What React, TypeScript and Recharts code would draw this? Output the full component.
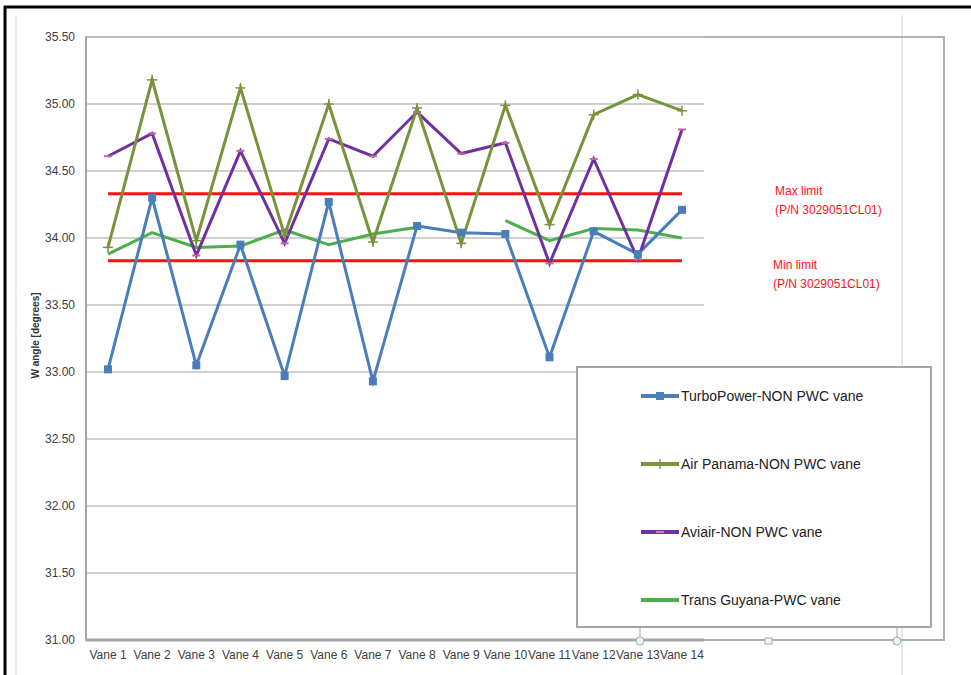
import React from 'react';
import { LineChart, Line, XAxis, YAxis, CartesianGrid, ReferenceLine } from 'recharts';

const categories = ['Vane 1', 'Vane 2', 'Vane 3', 'Vane 4', 'Vane 5', 'Vane 6', 'Vane 7', 'Vane 8', 'Vane 9', 'Vane 10', 'Vane 11', 'Vane 12', 'Vane 13', 'Vane 14'];
const turboPower = [33.02, 34.30, 33.05, 33.95, 32.97, 34.27, 32.93, 34.09, 34.04, 34.03, 33.11, 34.05, 33.88, 34.21];
const airPanama = [33.93, 35.18, 33.98, 35.12, 34.02, 35.00, 33.97, 34.97, 33.96, 34.99, 34.10, 34.92, 35.07, 34.95];
const aviair = [34.61, 34.78, 33.87, 34.65, 33.96, 34.74, 34.61, 34.94, 34.63, 34.71, 33.81, 34.59, 33.84, 34.81];
const transGuyana = [33.88, 34.04, 33.93, 33.94, 34.06, 33.95, 34.03, 34.08, null, 34.13, 33.98, 34.07, 34.06, 34.00];
const yTicks = [31, 31.5, 32, 32.5, 33, 33.5, 34, 34.5, 35, 35.5];
const MAX_LIMIT = 34.33;
const MIN_LIMIT = 33.83;
const limitLabel = '(P/N 3029051CL01)';

const FONT = '"Liberation Sans", Arial, sans-serif';
const BLUE = '#4a7ebb';
const OLIVE = '#77933c';
const PURPLE = '#7030a0';
const GREEN = '#4cae4c';
const RED = '#ff1010';

const data = categories.map((name, i) => ({
  name,
  turboPower: turboPower[i],
  airPanama: airPanama[i],
  aviair: aviair[i],
  transGuyana: transGuyana[i],
}));

const SquareDot = (props: any) => {
  const { cx, cy, index } = props;
  if (cx == null || cy == null) return <g key={`sq-${index}`} />;
  return <rect key={`sq-${index}`} x={cx - 4} y={cy - 4} width={8} height={8} fill={BLUE} />;
};

const PlusDot = (props: any) => {
  const { cx, cy, index } = props;
  if (cx == null || cy == null) return <g key={`pl-${index}`} />;
  return (
    <g key={`pl-${index}`} stroke={OLIVE} strokeWidth={1.5}>
      <line x1={cx - 5} y1={cy} x2={cx + 5} y2={cy} />
      <line x1={cx} y1={cy - 5} x2={cx} y2={cy + 5} />
    </g>
  );
};

const DashDot = (props: any) => {
  const { cx, cy, index } = props;
  if (cx == null || cy == null) return <g key={`da-${index}`} />;
  return <line key={`da-${index}`} x1={cx - 4} y1={cy} x2={cx + 4} y2={cy} stroke="#c86496" strokeWidth={2} />;
};

const legendItems = [
  { label: 'TurboPower-NON PWC vane', color: BLUE, marker: 'square' },
  { label: 'Air Panama-NON PWC vane', color: OLIVE, marker: 'plus' },
  { label: 'Aviair-NON PWC vane', color: PURPLE, marker: 'dash' },
  { label: 'Trans Guyana-PWC vane', color: GREEN, marker: 'none' },
];

const LegendSymbol = ({ color, marker }: { color: string; marker: string }) => (
  <svg width={38} height={12} style={{ display: 'block' }}>
    <line x1={0} y1={6} x2={38} y2={6} stroke={color} strokeWidth={4} />
    {marker === 'square' && <rect x={15} y={2} width={8} height={8} fill={color} />}
    {marker === 'plus' && <line x1={19} y1={1} x2={19} y2={11} stroke={color} strokeWidth={1.2} />}
    {marker === 'dash' && <line x1={15} y1={6} x2={23} y2={6} stroke="#d080a8" strokeWidth={2} />}
  </svg>
);

const YLabel = (props: any) => {
  const { viewBox } = props;
  const cx = 35;
  const cy = viewBox.y + viewBox.height / 2 - 3;
  return (
    <text x={cx} y={cy} transform={`rotate(-90 ${cx} ${cy})`} textAnchor="middle" dominantBaseline="central"
      fontSize={10} fontWeight="bold" fill="#333" fontFamily={FONT}>
      W angle [degrees]
    </text>
  );
};

export default function App() {
  return (
    <div style={{ position: 'absolute', left: 0, top: 0, width: 971, height: 675, background: '#fff', fontFamily: FONT, overflow: 'hidden' }}>
      <svg width={971} height={675} style={{ position: 'absolute', left: 0, top: 0 }}>
        <line x1={4} y1={7} x2={971} y2={7} stroke="#000" strokeWidth={3} />
        <line x1={5} y1={6} x2={5} y2={675} stroke="#000" strokeWidth={3} />
        <line x1={16} y1={15} x2={16} y2={675} stroke="#d4d4d4" strokeWidth={1} />
        <line x1={902} y1={15} x2={902} y2={675} stroke="#d0d0d0" strokeWidth={1} />
        <rect x={86} y={37} width={858} height={603} fill="none" stroke="#b0b0b0" strokeWidth={2} />
      </svg>
      <div style={{ position: 'absolute', left: 0, top: 0 }}>
        <LineChart width={971} height={675} data={data} margin={{ top: 37, right: 267, left: 0, bottom: 0 }}>
          <CartesianGrid vertical={false} stroke="#c0c0c0" strokeWidth={1.5} />
          <XAxis dataKey="name" interval={0} padding={{ left: 22, right: 22 }} height={35}
            axisLine={{ stroke: '#a6a6a6', strokeWidth: 3 }} tickLine={false} tickMargin={4}
            tick={{ fontSize: 12, fill: '#404040', fontFamily: FONT }} />
          <YAxis domain={[31, 35.5]} ticks={yTicks} width={86} allowDataOverflow
            axisLine={{ stroke: '#a6a6a6', strokeWidth: 2 }} tickLine={false} tickMargin={5}
            tickFormatter={(v: number) => v.toFixed(2)}
            tick={{ fontSize: 12, fill: '#404040', fontFamily: FONT }}
            label={<YLabel />} />
          <ReferenceLine segment={[{ x: categories[0], y: MAX_LIMIT }, { x: categories[categories.length - 1], y: MAX_LIMIT }]}
            stroke={RED} strokeWidth={3} ifOverflow="visible" />
          <ReferenceLine segment={[{ x: categories[0], y: MIN_LIMIT }, { x: categories[categories.length - 1], y: MIN_LIMIT }]}
            stroke={RED} strokeWidth={3} ifOverflow="visible" />
          <Line dataKey="transGuyana" stroke={GREEN} strokeWidth={3} dot={false} isAnimationActive={false} connectNulls={false} />
          <Line dataKey="turboPower" stroke={BLUE} strokeWidth={3} dot={SquareDot} activeDot={false} isAnimationActive={false} />
          <Line dataKey="aviair" stroke={PURPLE} strokeWidth={3} dot={DashDot} activeDot={false} isAnimationActive={false} />
          <Line dataKey="airPanama" stroke={OLIVE} strokeWidth={3} dot={PlusDot} activeDot={false} isAnimationActive={false} />
        </LineChart>
      </div>
      <div style={{ position: 'absolute', left: 775, top: 182, color: RED, fontSize: 12, lineHeight: '19px' }}>
        <div>Max limit</div>
        <div>{limitLabel}</div>
      </div>
      <div style={{ position: 'absolute', left: 773, top: 256, color: RED, fontSize: 12, lineHeight: '19px' }}>
        <div>Min limit</div>
        <div>{limitLabel}</div>
      </div>
      <div style={{ position: 'absolute', left: 576, top: 366, width: 352, height: 258, border: '2px solid #a6a6a6', background: '#fff' }}>
        {legendItems.map((item, i) => (
          <div key={item.label} style={{ position: 'absolute', left: 63, top: 20 + i * 68, display: 'flex', alignItems: 'center', height: 16 }}>
            <LegendSymbol color={item.color} marker={item.marker} />
            <span style={{ fontSize: 14, color: '#222', marginLeft: 2, whiteSpace: 'nowrap' }}>{item.label}</span>
          </div>
        ))}
      </div>
      <svg width={971} height={675} style={{ position: 'absolute', left: 0, top: 0, pointerEvents: 'none' }}>
        <line x1={640} y1={626} x2={640} y2={637} stroke="#a6a6a6" strokeWidth={1} />
        <line x1={897} y1={626} x2={897} y2={637} stroke="#a6a6a6" strokeWidth={1} />
        <circle cx={640} cy={641} r={4} fill="#eef6f8" stroke="#8fb0bd" strokeWidth={1} />
        <rect x={765} y={638} width={7} height={6} fill="#eef6f8" stroke="#8fb0bd" strokeWidth={1} />
        <circle cx={897} cy={641} r={4} fill="#eef6f8" stroke="#8fb0bd" strokeWidth={1} />
      </svg>
    </div>
  );
}
